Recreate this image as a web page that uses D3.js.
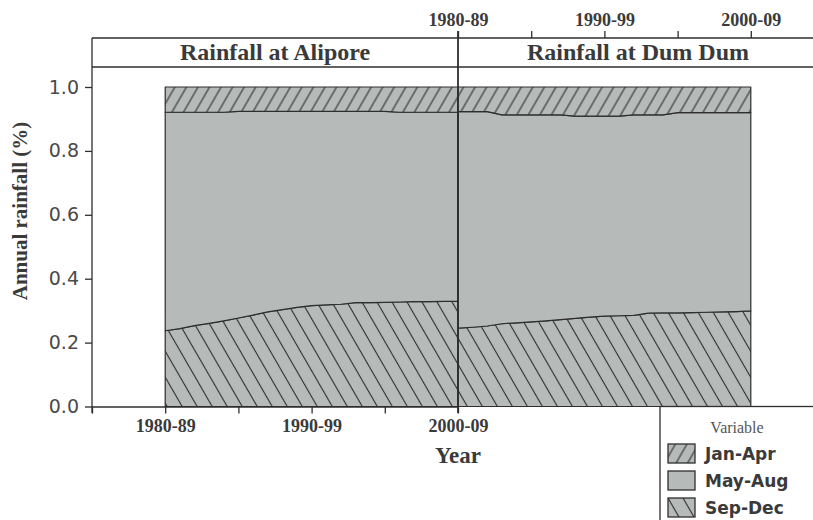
<!DOCTYPE html>
<html><head><meta charset="utf-8">
<script src="https://cdn.jsdelivr.net/npm/d3@7"></script>
<style>body{margin:0;background:#fff;} svg{display:block;}</style>
</head><body><svg id="c" width="813" height="520"></svg>
<script>
// ---- data ----
const decadeLabels = ["1980-89", "1990-99", "2000-09"];
const majorTicks = [0, 1, 2];
const leftMinorTicks = [-0.5, 0.5, 1.5];
const rightMinorTicks = [0.5, 1.5];
const yTicks = [0, 0.2, 0.4, 0.6, 0.8, 1.0];
const variables = ["Jan-Apr", "May-Aug", "Sep-Dec"];
const panelTitles = ["Rainfall at Alipore", "Rainfall at Dum Dum"];
// position along the decade axis (0 = 1980-89, 1 = 1990-99, 2 = 2000-09)
const tPos = [0, 0.1, 0.2, 0.3, 0.4, 0.5, 0.6, 0.7, 0.8, 0.9, 1.0, 1.1, 1.2, 1.3, 1.4, 1.5, 1.6, 1.7, 1.8, 1.9, 2.0];
const aliporeSepDec = [0.237, 0.244, 0.253, 0.260, 0.268, 0.277, 0.286, 0.296, 0.303, 0.310, 0.316, 0.318, 0.320, 0.325, 0.325, 0.326, 0.327, 0.328, 0.328, 0.329, 0.329];
const aliporeMayAug = [0.684, 0.677, 0.668, 0.661, 0.653, 0.647, 0.638, 0.628, 0.621, 0.614, 0.608, 0.606, 0.604, 0.599, 0.599, 0.598, 0.594, 0.593, 0.593, 0.592, 0.592];
const aliporeJanApr = [0.079, 0.079, 0.079, 0.079, 0.079, 0.076, 0.076, 0.076, 0.076, 0.076, 0.076, 0.076, 0.076, 0.076, 0.076, 0.076, 0.079, 0.079, 0.079, 0.079, 0.079];
const dumdumSepDec = [0.245, 0.248, 0.252, 0.259, 0.262, 0.265, 0.268, 0.272, 0.276, 0.280, 0.283, 0.284, 0.285, 0.292, 0.293, 0.293, 0.294, 0.295, 0.296, 0.297, 0.299];
const dumdumMayAug = [0.678, 0.675, 0.671, 0.654, 0.651, 0.648, 0.645, 0.641, 0.633, 0.629, 0.626, 0.625, 0.628, 0.621, 0.620, 0.627, 0.626, 0.625, 0.624, 0.623, 0.621];
const dumdumJanApr = [0.077, 0.077, 0.077, 0.087, 0.087, 0.087, 0.087, 0.087, 0.091, 0.091, 0.091, 0.091, 0.087, 0.087, 0.087, 0.080, 0.080, 0.080, 0.080, 0.080, 0.080];

// ---- style ----
const GRAY = "#b6bab8";
const DARK = "#2e2e2e";
const TXT = "#3a3a3a";
const SERIF = "'Liberation Serif', 'Times New Roman', serif";
const SANS = "'DejaVu Sans', Verdana, sans-serif";

const svg = d3.select("#c");
const defs = svg.append("defs");
function hatch(id, angle, spacing) {
  const p = defs.append("pattern").attr("id", id).attr("patternUnits", "userSpaceOnUse")
    .attr("width", spacing).attr("height", 20).attr("patternTransform", `rotate(${angle})`);
  p.append("rect").attr("width", spacing).attr("height", 20).attr("fill", GRAY);
  p.append("line").attr("x1", spacing / 2).attr("x2", spacing / 2).attr("y1", 0).attr("y2", 20)
    .attr("stroke", DARK).attr("stroke-width", 1.1);
}
hatch("hJan", 30, 10);
hatch("hSep", -30, 13);
const fills = {"Jan-Apr": "url(#hJan)", "May-Aug": GRAY, "Sep-Dec": "url(#hSep)"};

const y = d3.scaleLinear().domain([0, 1]).range([406.5, 87]);
const xL = d3.scaleLinear().domain([-0.5, 2]).range([92, 458]);
const xR = d3.scaleLinear().domain([0, 2.5]).range([458, 824]);

const stackKeys = ["Sep-Dec", "May-Aug", "Jan-Apr"];
const stack = d3.stack().keys(stackKeys);

function drawPanel(x, sep, may, jan) {
  const rows = tPos.map((t, i) => ({t: t, "Sep-Dec": sep[i], "May-Aug": may[i], "Jan-Apr": jan[i]}));
  const series = stack(rows);
  const area = d3.area().x(d => x(d.data.t)).y0(d => y(d[0])).y1(d => y(d[1]));
  svg.append("g").selectAll("path").data(series).join("path")
    .attr("d", area)
    .attr("fill", d => fills[d.key])
    .attr("stroke", DARK).attr("stroke-width", 1.2).attr("stroke-linejoin", "round");
}
drawPanel(xL, aliporeSepDec, aliporeMayAug, aliporeJanApr);
drawPanel(xR, dumdumSepDec, dumdumMayAug, dumdumJanApr);

// strip header
svg.append("line").attr("x1", 92).attr("x2", 813).attr("y1", 38).attr("y2", 38).attr("stroke", DARK).attr("stroke-width", 1.3);
svg.append("line").attr("x1", 92).attr("x2", 813).attr("y1", 67).attr("y2", 67).attr("stroke", DARK).attr("stroke-width", 1.3);
svg.append("line").attr("x1", 92).attr("x2", 92).attr("y1", 38).attr("y2", 413).attr("stroke", DARK).attr("stroke-width", 1.3);
svg.append("text").attr("x", (92 + 458) / 2).attr("y", 60).attr("text-anchor", "middle")
  .attr("font-family", SERIF).attr("font-weight", "bold").attr("font-size", 24).attr("fill", TXT).text(panelTitles[0]);
svg.append("text").attr("x", 638).attr("y", 60).attr("text-anchor", "middle")
  .attr("font-family", SERIF).attr("font-weight", "bold").attr("font-size", 24).attr("fill", TXT).text(panelTitles[1]);

// left y axis
const yAxis = d3.axisLeft(y).tickValues(yTicks).tickFormat(d3.format(".1f")).tickSize(7).tickPadding(6);
const gy = svg.append("g").attr("transform", "translate(92,0)").call(yAxis);
gy.select(".domain").remove();
gy.selectAll("line").attr("stroke", DARK).attr("stroke-width", 1.3);
gy.selectAll("text").attr("font-family", SANS).attr("font-size", 19).attr("fill", "#4a4a4a");

// bottom axis (left panel)
const xbAxis = d3.axisBottom(xL).tickValues([...leftMinorTicks, ...majorTicks])
  .tickFormat(v => Number.isInteger(v) ? decadeLabels[v] : "").tickSize(7).tickSizeOuter(0).tickPadding(6);
const gxb = svg.append("g").attr("transform", "translate(0,406.5)").call(xbAxis);
gxb.select(".domain").attr("stroke", DARK).attr("stroke-width", 1.3);
gxb.selectAll("line").attr("stroke", DARK).attr("stroke-width", 1.3);
gxb.selectAll("text").attr("font-family", SERIF).attr("font-weight", "bold").attr("font-size", 18).attr("fill", TXT);

// top axis (right panel)
const xtAxis = d3.axisTop(xR).tickValues([...rightMinorTicks, ...majorTicks])
  .tickFormat(v => Number.isInteger(v) ? decadeLabels[v] : "").tickSize(7).tickSizeOuter(0).tickPadding(5);
const gxt = svg.append("g").attr("transform", "translate(0,38)").call(xtAxis);
gxt.select(".domain").remove();
gxt.selectAll("line").attr("stroke", DARK).attr("stroke-width", 1.3);
gxt.selectAll("text").attr("font-family", SERIF).attr("font-weight", "bold").attr("font-size", 18).attr("fill", TXT);

// panel divider
svg.append("line").attr("x1", 458).attr("x2", 458).attr("y1", 31).attr("y2", 413).attr("stroke", DARK).attr("stroke-width", 1.8);

// axis titles
svg.append("text").attr("x", 458).attr("y", 463).attr("text-anchor", "middle")
  .attr("font-family", SERIF).attr("font-weight", "bold").attr("font-size", 23).attr("fill", TXT).text("Year");
svg.append("text").attr("transform", "translate(27,211) rotate(-90)").attr("text-anchor", "middle")
  .attr("font-family", SERIF).attr("font-weight", "bold").attr("font-size", 21).attr("fill", TXT).text("Annual rainfall (%)");

// legend
const lg = svg.append("g");
lg.append("rect").attr("x", 660).attr("y", 406.5).attr("width", 200).attr("height", 150)
  .attr("fill", "#fff").attr("stroke", DARK).attr("stroke-width", 1.3);
lg.append("text").attr("x", 737).attr("y", 433).attr("text-anchor", "middle")
  .attr("font-family", SERIF).attr("font-size", 16).attr("fill", "#555").text("Variable");
const items = lg.selectAll("g.item").data(variables).join("g").attr("class", "item")
  .attr("transform", (d, i) => `translate(0,${444 + i * 27})`);
items.append("rect").attr("x", 668).attr("y", 0).attr("width", 27).attr("height", 19)
  .attr("fill", d => fills[d]).attr("stroke", DARK).attr("stroke-width", 1.3);
items.append("text").attr("x", 705).attr("y", 15.5)
  .attr("font-family", SANS).attr("font-weight", "bold").attr("font-size", 17).attr("fill", TXT).text(d => d);
</script>
</body></html>
